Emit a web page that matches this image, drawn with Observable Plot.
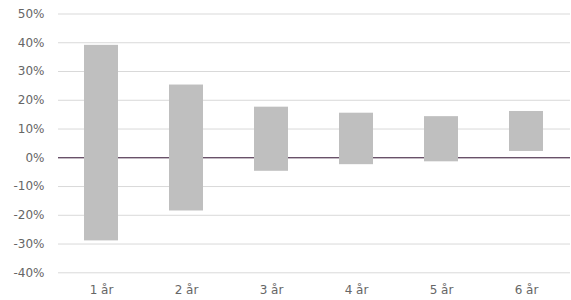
<!DOCTYPE html>
<html>
<head>
<meta charset="utf-8">
<script src="https://cdn.jsdelivr.net/npm/d3@7"></script>
<script src="https://cdn.jsdelivr.net/npm/@observablehq/plot@0.6"></script>
<style>
  html, body { margin: 0; padding: 0; background: #fff; }
  #chart svg { display: block; }
</style>
</head>
<body>
<div id="chart"></div>
<script>
const categories = ["1 år", "2 år", "3 år", "4 år", "5 år", "6 år"];
const highs = [39.1, 25.3, 17.6, 15.5, 14.3, 16.1];
const lows = [-28.9, -18.5, -4.7, -2.4, -1.4, 2.2];
const yTicks = [-40, -30, -20, -10, 0, 10, 20, 30, 40, 50];

const data = categories.map((c, i) => ({cat: c, lo: lows[i], hi: highs[i]}));

const chart = Plot.plot({
  width: 571,
  height: 300,
  marginLeft: 58,
  marginRight: 1,
  marginTop: 13.5,
  marginBottom: 27.7,
  style: {fontFamily: "'DejaVu Sans', sans-serif", fontSize: "12px", color: "#666666", background: "#fff"},
  x: {domain: categories, paddingInner: 0.6, paddingOuter: 0.3, label: null},
  y: {domain: [-40, 50], label: null},
  marks: [
    Plot.ruleY(yTicks, {stroke: "#d9d9d9", strokeWidth: 1}),
    Plot.ruleY([0], {stroke: "#3d1c3d", strokeWidth: 1}),
    Plot.barY(data, {x: "cat", y1: "lo", y2: "hi", fill: "#bfbfbf"}),
    Plot.axisY({ticks: yTicks, tickSize: 0, tickPadding: 14, tickFormat: d => d + "%", label: null}),
    Plot.axisX({tickSize: 0, tickPadding: 13, label: null})
  ]
});
document.getElementById("chart").appendChild(chart);
</script>
</body>
</html>
